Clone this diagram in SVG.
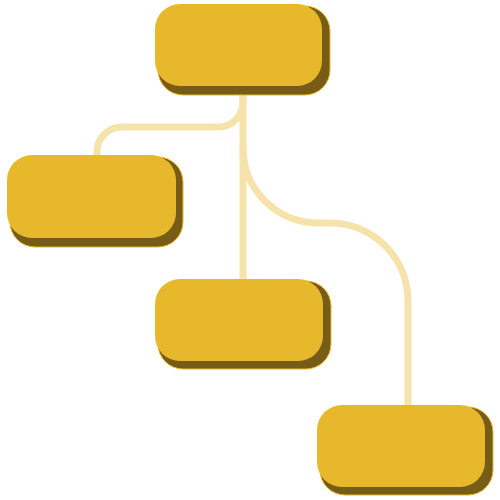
<svg xmlns="http://www.w3.org/2000/svg" width="500" height="500" viewBox="0 0 500 500">
  <style>
    .edge { fill: none; stroke: #F5E3AB; stroke-width: 7; }
    .shadow { fill: #775C18; stroke: #E8B82C; stroke-width: 1; }
    .box { fill: #E8B82C; }
  </style>
  <rect width="500" height="500" fill="#FFFFFF"/>
  <g id="connectors">
    <path class="edge" d="M243 95 V102 A25 25 0 0 1 218 127 H122 A25 25 0 0 0 97 152 V158"/>
    <path class="edge" d="M243 95 V282"/>
    <path class="edge" d="M243 148 A75 75 0 0 0 318 223 H330 A78 78 0 0 1 408 301 V408"/>
  </g>
  <g id="node-root">
    <rect class="shadow" x="158" y="6" width="172" height="89" rx="25"/>
    <rect class="box" x="155" y="4" width="167" height="82" rx="25"/>
  </g>
  <g id="node-left">
    <rect class="shadow" x="10" y="157" width="173" height="90" rx="25"/>
    <rect class="box" x="7" y="155" width="169" height="83" rx="25"/>
  </g>
  <g id="node-middle">
    <rect class="shadow" x="158" y="281" width="173" height="88" rx="25"/>
    <rect class="box" x="155" y="279" width="168" height="82" rx="25"/>
  </g>
  <g id="node-right">
    <rect class="shadow" x="320" y="407" width="173" height="88" rx="25"/>
    <rect class="box" x="317" y="405" width="168" height="82" rx="25"/>
  </g>
</svg>
